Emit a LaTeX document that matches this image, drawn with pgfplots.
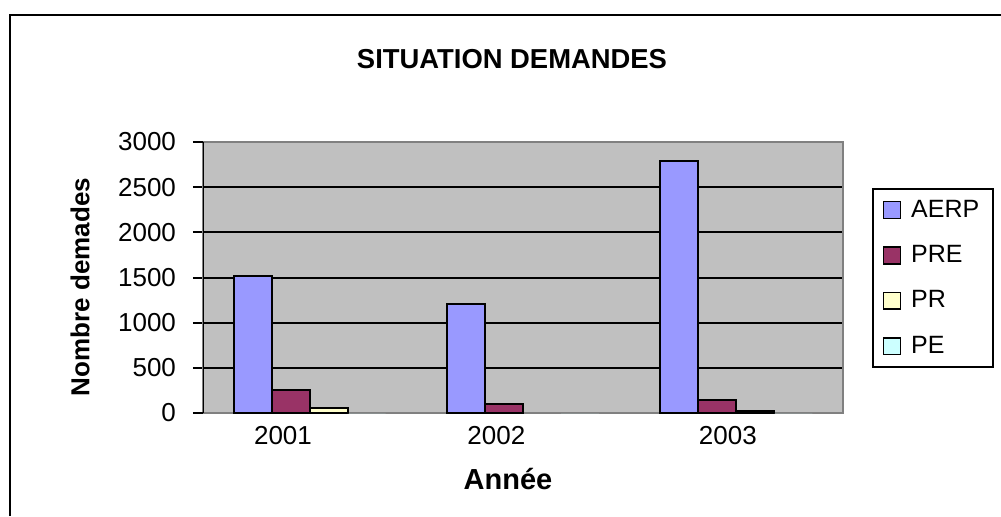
\documentclass[border=0pt]{standalone}
\usepackage{fontspec}
\setmainfont{Liberation Sans}
\usepackage{pgfplots}
\pgfplotsset{compat=1.18}
\definecolor{aerp}{HTML}{9999FF}
\definecolor{pre}{HTML}{993366}
\definecolor{pr}{HTML}{FFFFCC}
\definecolor{pe}{HTML}{CCFFFF}
\definecolor{plotbg}{HTML}{C0C0C0}
\definecolor{frame}{HTML}{808080}
\begin{document}
\begin{tikzpicture}
\useasboundingbox (0,0) rectangle (500.5pt,258pt);
\draw[line width=1pt] (5pt,0) -- (5pt,250.5pt) -- (500.5pt,250.5pt);
\begin{axis}[
  at={(101.5pt,51.5pt)}, anchor=south west,
  scale only axis, width=320pt, height=135.5pt,
  xmin=-0.5, xmax=2.5, ymin=0, ymax=3000,
  ybar=0pt, bar width=19pt,
  xtick={-0.125,0.875,1.96}, xticklabels={2001,2002,2003},
  x tick style={draw=none},
  ytick pos=left,
  ytick={500,1000,1500,2000,2500}, extra y ticks={0,3000},
  extra y tick style={grid=none},
  ymajorgrids, grid style={black, line width=1pt},
  tick align=outside, major tick length=5pt,
  y tick style={black, line width=1pt},
  axis line style={draw=frame, line width=0.8pt},
  axis background/.style={fill=plotbg},
  /pgf/number format/assume math mode=true,
  /pgf/number format/1000 sep={},
  scaled y ticks=false,
  ticklabel style={font=\fontsize{13}{15}\selectfont},
  yticklabel style={xshift=-5pt},
  xticklabel style={yshift=2pt},
  legend style={at={(1.0453,0.830)}, anchor=north west, draw=black, line width=0.8pt,
    fill=white, font=\fontsize{12.5}{15}\selectfont, row sep=8.6pt,
    inner xsep=5pt, inner ysep=3.5pt, cells={anchor=west},
    /tikz/every odd column/.append style={column sep=3pt}},
  legend image code/.code={\draw[#1, draw=black, line width=0.8pt] (0pt,-4.2pt) rectangle (8.4pt,4.2pt);},
]
\addplot[fill=aerp, draw=black, line width=1pt] coordinates {(0,1515) (1,1210) (2,2785)};
\addplot[fill=pre, draw=black, line width=1pt] coordinates {(0,255) (1,100) (2,148)};
\addplot[fill=pr, draw=black, line width=1pt] coordinates {(0,55) (2,20)};
\addplot[fill=pe, draw=none] coordinates {(0,0) (1,0) (2,0)};
\legend{AERP,PRE,PR,PE}
\draw[black, line width=1pt] (rel axis cs:0,0) -- (rel axis cs:0,1);
\end{axis}
\node[font=\bfseries\fontsize{13.7}{16}\selectfont] at (256pt,228.5pt) {SITUATION DEMANDES};
\node[font=\bfseries\fontsize{14.5}{17}\selectfont] at (254pt,18.5pt) {Année};
\node[font=\bfseries\fontsize{13}{16}\selectfont, rotate=90] at (40pt,114.5pt) {Nombre demades};
\end{tikzpicture}
\end{document}
